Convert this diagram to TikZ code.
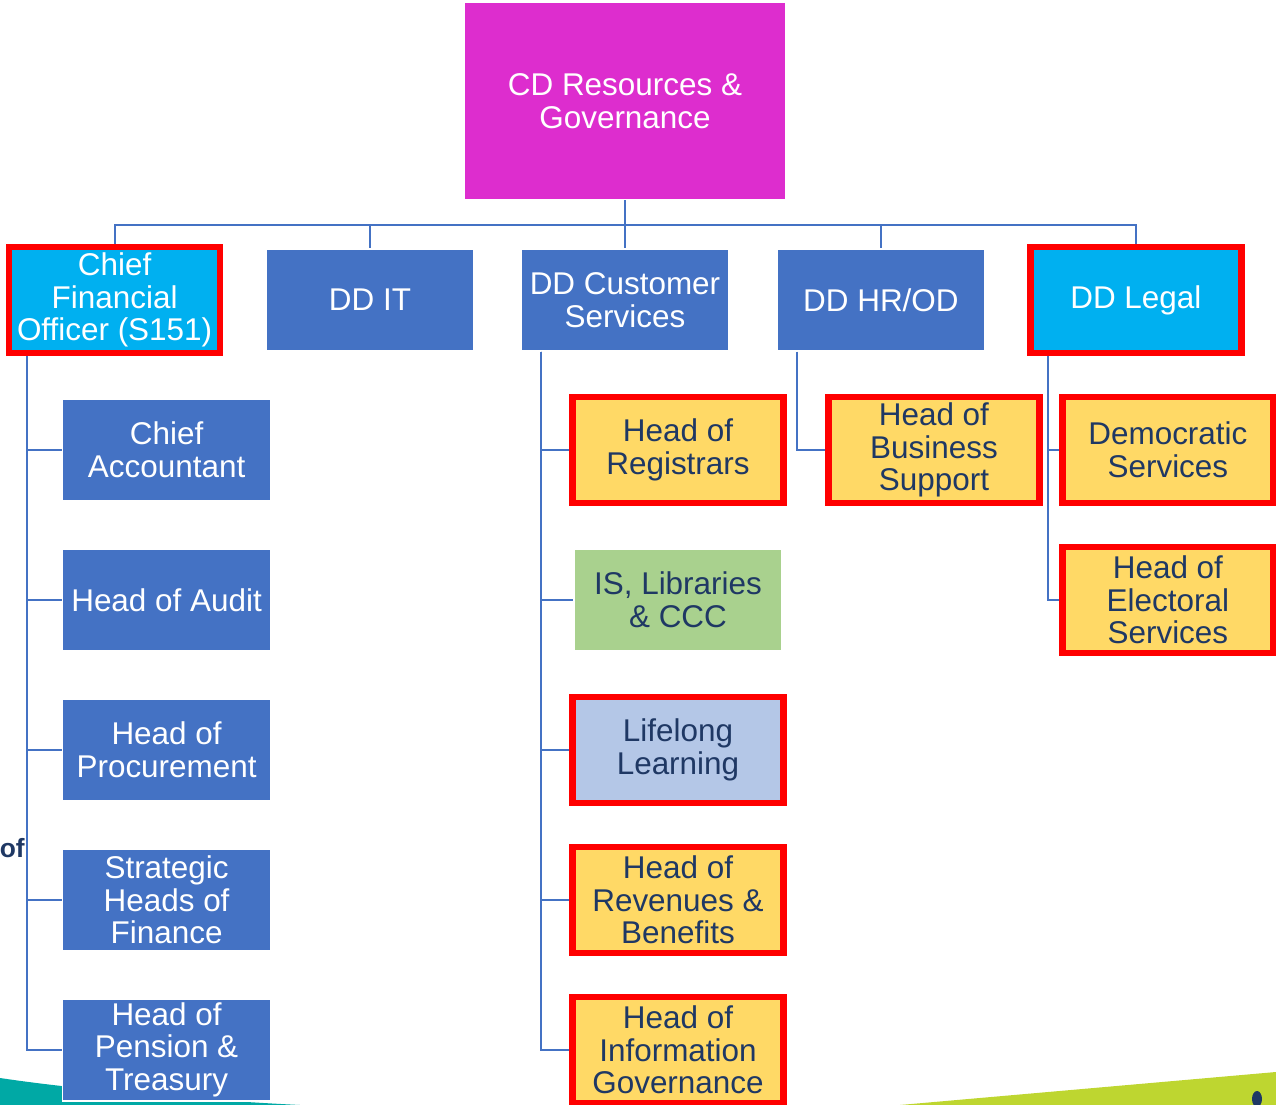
\documentclass[tikz,border=0pt]{standalone}
\usepackage{fontspec}
\setmainfont{Liberation Sans}
\usetikzlibrary{positioning}

\definecolor{ppmagenta}{RGB}{221,45,206}
\definecolor{ppblue}{RGB}{68,114,196}
\definecolor{ppcyan}{RGB}{0,176,240}
\definecolor{ppyellow}{RGB}{255,217,102}
\definecolor{ppgreen}{RGB}{169,209,142}
\definecolor{pplight}{RGB}{180,199,231}
\definecolor{ppnavy}{RGB}{31,56,100}
\definecolor{ppred}{RGB}{255,0,0}
\definecolor{ppline}{RGB}{68,114,196}
\definecolor{ppteal}{RGB}{0,169,165}
\definecolor{pplime}{RGB}{190,214,48}

\newcommand{\boxfont}{\fontsize{17.9pt}{18.7pt}\selectfont}

\begin{document}
\begin{tikzpicture}[
        x=0.02cm, y=-0.02cm,
        node distance=3cm and 5.11cm, on grid,
        every node/.style={align=center, inner sep=0pt},
        unit/.style={rectangle, draw=white, line width=0.8pt, fill=ppblue, text=white, font=\boxfont, minimum width=4.16cm, minimum height=2.04cm},
        flagged/.style={draw=ppred, line width=3.6pt, minimum width=4.22cm, minimum height=2.12cm},
        chief/.style={unit, fill=ppcyan},
        service/.style={unit, fill=ppyellow, text=ppnavy},
        library/.style={unit, fill=ppgreen, text=ppnavy},
        learning/.style={unit, fill=pplight, text=ppnavy},
        link/.style={draw=ppline, line width=1.1pt}
    ]
    \useasboundingbox (0,0) rectangle (1276,1105);

    % Background
    \fill[ppteal] (0,1078) .. controls (80,1090) and (200,1100) .. (300,1105) -- (0,1105) -- cycle;
    \fill[pplime] (900,1105) -- (1276,1072) -- (1276,1105) -- cycle;
    \fill[ppnavy] (1257,1099) ellipse [x radius=0.1cm, y radius=0.16cm];
    \node[font=\bfseries\fontsize{15pt}{17pt}\selectfont, text=ppnavy, anchor=base east] (ofword) at (25,857) {of};

    % Nodes
    \node[unit, fill=ppmagenta, minimum width=6.44cm, minimum height=3.94cm] (top) at (625,101) {CD Resources \&\\Governance};

    \node[unit] (ddcs) [below=3.98cm of top] {DD Customer\\Services};
    \node[unit] (ddit) [left=5.1cm of ddcs] {DD IT};
    \node[chief, flagged] (cfo) [left=5.11cm of ddit] {Chief\\Financial\\Officer (S151)};
    \node[unit] (ddhr) [right=5.12cm of ddcs] {DD HR/OD};
    \node[chief, flagged] (ddlegal) [right=5.1cm of ddhr] {DD Legal};

    \node[unit] (acct) [below right=3cm and 1.04cm of cfo] {Chief\\Accountant};
    \node[unit] (audit) [below=of acct] {Head of Audit};
    \node[unit] (proc) [below=of audit] {Head of\\Procurement};
    \node[unit] (fin) [below=of proc] {Strategic\\Heads of\\Finance};
    \node[unit] (pens) [below=of fin] {Head of\\Pension \&\\Treasury};

    \node[service, flagged] (regs) [below right=3cm and 1.06cm of ddcs] {Head of\\Registrars};
    \node[library] (libs) [below=of regs] {IS, Libraries\\\& CCC};
    \node[learning, flagged] (learn) [below=of libs] {Lifelong\\Learning};
    \node[service, flagged] (revs) [below=of learn] {Head of\\Revenues \&\\Benefits};
    \node[service, flagged] (infog) [below=of revs] {Head of\\Information\\Governance};

    \node[service, flagged] (bsup) [below right=3cm and 1.06cm of ddhr] {Head of\\Business\\Support};

    \node[service, flagged] (dems) [below right=3cm and 0.64cm of ddlegal] {Democratic\\Services};
    \node[service, flagged] (elec) [below=of dems] {Head of\\Electoral\\Services};

    % Edges
    \coordinate (bus) at (625,225);
    \draw[link] (top.south) -- (bus);
    \foreach \n in {cfo,ddit,ddcs,ddhr,ddlegal}
        \draw[link] (bus) -| (\n.north);
    \foreach \c in {acct,audit,proc,fin,pens}
        \draw[link] ([xshift=0.42cm]cfo.south west) |- (\c.west);
    \foreach \c in {regs,libs,learn,revs,infog}
        \draw[link] ([xshift=0.42cm]ddcs.south west) |- (\c.west);
    \draw[link] ([xshift=0.42cm]ddhr.south west) |- (bsup.west);
    \foreach \c in {dems,elec}
        \draw[link] ([xshift=0.42cm]ddlegal.south west) |- (\c.west);

\end{tikzpicture}
\end{document}
